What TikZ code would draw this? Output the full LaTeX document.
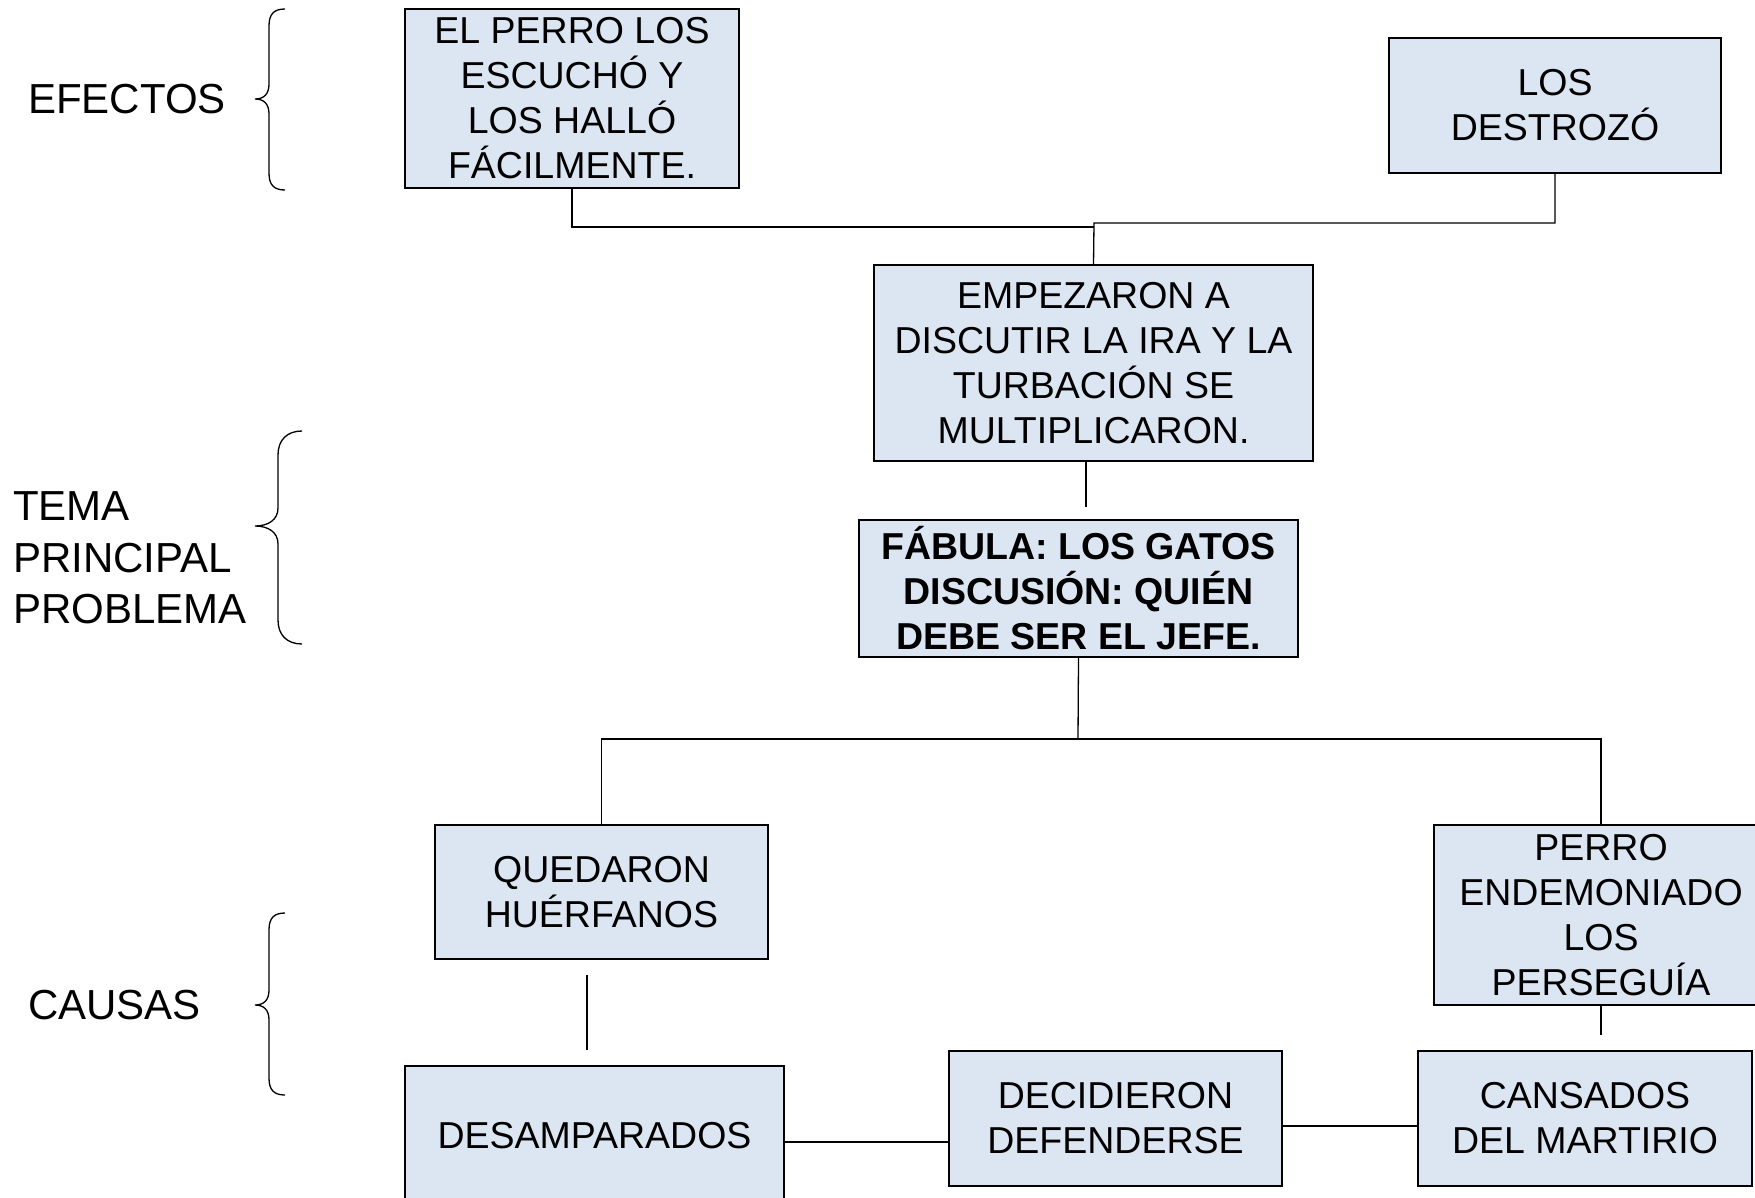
\documentclass[tikz,border=0pt]{standalone}
\usepackage{fontspec}
\setmainfont{Liberation Sans}
\definecolor{boxfill}{HTML}{DCE6F2}
\tikzset{
  cbox/.style={draw=black, line width=1.4pt, fill=boxfill, rectangle, inner sep=0pt, align=center, font=\fontsize{37.5}{45}\selectfont},
  lbl/.style={inner sep=0pt, align=left, anchor=west, font=\fontsize{42}{51.5}\selectfont},
  conn/.style={line width=1.3pt},
  bracepath/.style={line width=1.3pt}
}
\begin{document}
\begin{tikzpicture}[x=1pt,y=-1pt]
\clip (0,0) rectangle (1755,1197);
\fill[white] (0,0) rectangle (1755,1197);
% boxes
\node[cbox, minimum width=334pt, minimum height=179pt] (perro) at (572,98.5) {EL PERRO LOS\\ESCUCHÓ Y\\LOS HALLÓ\\FÁCILMENTE.};
\node[cbox, minimum width=332pt, minimum height=135pt] (destrozo) at (1555,105.5) {LOS\\DESTROZÓ};
\node[cbox, minimum width=439pt, minimum height=196pt] (empezaron) at (1093.5,363) {EMPEZARON A\\DISCUTIR LA IRA Y LA\\TURBACIÓN SE\\MULTIPLICARON.};
\node[cbox, minimum width=439pt, minimum height=137pt, font=\fontsize{37.5}{45}\selectfont\bfseries] (fabula) at (1078.5,588.5) {FÁBULA: LOS GATOS\\DISCUSIÓN: QUIÉN\\DEBE SER EL JEFE.};
\node[cbox, minimum width=333pt, minimum height=134pt] (quedaron) at (601.5,892) {QUEDARON\\HUÉRFANOS};
\node[cbox, minimum width=334pt, minimum height=180pt] (endemoniado) at (1601,915) {PERRO\\ENDEMONIADO\\LOS\\PERSEGUÍA};
\node[cbox, minimum width=379pt, minimum height=140pt] (desamparados) at (594.5,1136) {DESAMPARADOS};
\node[cbox, minimum width=333pt, minimum height=135pt] (decidieron) at (1115.5,1118.5) {DECIDIERON\\DEFENDERSE};
\node[cbox, minimum width=334pt, minimum height=135pt] (cansados) at (1585,1118.5) {CANSADOS\\DEL MARTIRIO};
% left labels
\node[lbl] (efectos) at (28,99) {EFECTOS};
\node[lbl] (tema) at (13,558) {TEMA\\PRINCIPAL\\PROBLEMA};
\node[lbl] (causas) at (28,1005) {CAUSAS};
% braces
\draw[bracepath] (285,9) .. controls (274,9) and (269,14) .. (269,26) -- (269,84) .. controls (269,94) and (264,99) .. (255,99) .. controls (264,99) and (269,104) .. (269,114) -- (269,173) .. controls (269,185) and (274,190) .. (285,190);
\draw[bracepath] (302,431) .. controls (287,431) and (278,440) .. (278,455) -- (278,508) .. controls (278,520) and (268,526) .. (255,526) .. controls (268,526) and (278,532) .. (278,544) -- (278,620) .. controls (278,635) and (287,644) .. (302,644);
\draw[bracepath] (285,913) .. controls (274,913) and (269,918) .. (269,930) -- (269,990) .. controls (269,1000) and (264,1005) .. (255,1005) .. controls (264,1005) and (269,1010) .. (269,1020) -- (269,1078) .. controls (269,1090) and (274,1095) .. (285,1095);
% connector coordinates
\coordinate (j1) at (1094,227);
\coordinate (j2) at (1094,223);
\coordinate (g1) at (1086,507);
\coordinate (h1) at (1078,739);
\coordinate (q1) at (587,975);
\coordinate (q2) at (587,1050);
\coordinate (p2) at (1601,1035);
\coordinate (d1) at (784,1142);
\coordinate (c1) at (1282,1126);
% connectors
\draw[conn] (perro.south) |- (j1);
\draw[conn] (destrozo.south) |- (j2) -- (empezaron.north);
\draw[conn] (empezaron.south -| g1) -- (g1);
\draw[conn] (fabula.south) -- (h1);
\draw[conn] (quedaron.north) |- (h1) -| (endemoniado.north);
\draw[conn] (q1) -- (q2);
\draw[conn] (endemoniado.south) -- (p2);
\draw[conn] (desamparados.east |- d1) -- (decidieron.west |- d1);
\draw[conn] (decidieron.east |- c1) -- (cansados.west |- c1);
\end{tikzpicture}
\end{document}
